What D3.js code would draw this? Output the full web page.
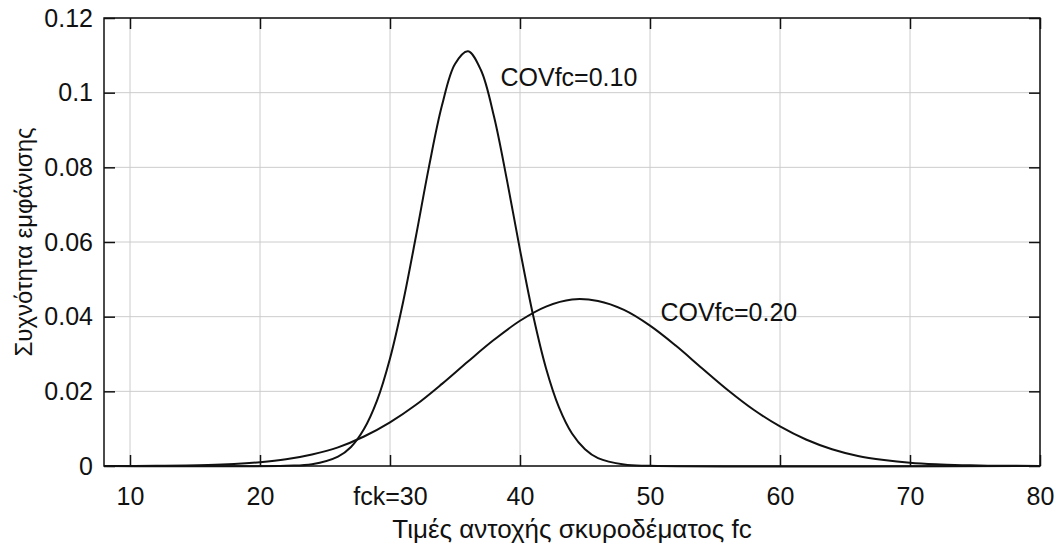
<html>
<head>
  <style>
  body {
    margin: 0;
    background: #fff;
    font-family: "Liberation Sans", Arial, sans-serif;
  }
  .grid line {
    stroke: #cccccc;
    stroke-width: 1px;
  }
  .axis .domain {
    display: none;
  }
  .axis text {
    font-size: 25px;
    fill: #111;
  }
  .axis line {
    stroke: #111;
    stroke-width: 1.5px;
  }
  .curve {
    fill: none;
    stroke: #111;
    stroke-width: 2px;
  }
  </style>
</head>
<body>
<div id="chart"></div>
<script src="https://d3js.org/d3.v7.min.js"></script>
<script>

// x ticks and labels
var xTicks = [10, 20, 30, 40, 50, 60, 70, 80];
var xTickLabels = ["10", "20", "fck=30", "40", "50", "60", "70", "80"];
// y ticks and labels
var yTicks = [0, 0.02, 0.04, 0.06, 0.08, 0.1, 0.12];
var yTickLabels = ["0", "0.02", "0.04", "0.06", "0.08", "0.1", "0.12"];

// COVfc = 0.10
var fc1 = [8, 22, 24, 26, 27, 28, 29, 30, 31, 32, 33, 34, 35, 36, 37, 38, 39, 40, 41, 42, 43, 44, 45, 46, 48, 50, 80];
var p1 = [0, 0.00006, 0.00046, 0.0025, 0.0051, 0.0099, 0.0175, 0.0288, 0.0438, 0.0616, 0.0802, 0.0966, 0.1077, 0.1111, 0.106, 0.0936, 0.0765, 0.0579, 0.0405, 0.0262, 0.0157, 0.0087, 0.0045, 0.0021, 0.0004, 0.00005, 0];

// COVfc = 0.20
var fc2 = [8, 12, 16, 18, 20, 22, 24, 26, 28, 30, 32, 34, 36, 38, 40, 42, 44, 46, 48, 50, 52, 54, 56, 58, 60, 62, 64, 66, 68, 70, 72, 74, 76, 80];
var p2 = [0.00001, 0.00006, 0.00026, 0.00052, 0.001, 0.0018, 0.0031, 0.005, 0.0079, 0.0117, 0.0164, 0.022, 0.028, 0.0338, 0.0389, 0.0427, 0.0446, 0.0442, 0.0418, 0.0376, 0.0322, 0.0262, 0.0203, 0.015, 0.0106, 0.0071, 0.0045, 0.0027, 0.0016, 0.00085, 0.00044, 0.00022, 0.0001, 0.00002];

var labels = [
  {text: "COVfc=0.10", x: 38.5, y: 0.1018},
  {text: "COVfc=0.20", x: 50.8, y: 0.0388}
];

var margin = {top: 18, right: 16, bottom: 78, left: 104},
    width = 1056 - margin.left - margin.right,
    height = 544 - margin.top - margin.bottom;

var svg = d3.select("#chart")
  .append("svg")
    .attr("width", 1056)
    .attr("height", 544)
  .append("g")
    .attr("transform", "translate(" + margin.left + "," + margin.top + ")");

var x = d3.scaleLinear().domain([8, 80]).range([0, width]);
var y = d3.scaleLinear().domain([0, 0.12]).range([height, 0]);

// grid
svg.append("g").attr("class", "grid")
  .selectAll("line").data(xTicks).enter().append("line")
    .attr("x1", function(d) { return x(d); })
    .attr("x2", function(d) { return x(d); })
    .attr("y1", 0).attr("y2", height);
svg.append("g").attr("class", "grid")
  .selectAll("line").data(yTicks).enter().append("line")
    .attr("y1", function(d) { return y(d); })
    .attr("y2", function(d) { return y(d); })
    .attr("x1", 0).attr("x2", width);

// axes, ticks pointing inward
svg.append("g").attr("class", "axis")
  .attr("transform", "translate(0," + height + ")")
  .call(d3.axisBottom(x).tickValues(xTicks).tickSizeInner(-11).tickSizeOuter(0).tickPadding(21)
    .tickFormat(function(d, i) { return xTickLabels[i]; }));
svg.append("g").attr("class", "axis")
  .call(d3.axisTop(x).tickValues(xTicks).tickSizeInner(-11).tickSizeOuter(0).tickFormat(""));
svg.append("g").attr("class", "axis")
  .call(d3.axisLeft(y).tickValues(yTicks).tickSizeInner(-11).tickSizeOuter(0).tickPadding(11)
    .tickFormat(function(d, i) { return yTickLabels[i]; }));
svg.append("g").attr("class", "axis")
  .attr("transform", "translate(" + width + ",0)")
  .call(d3.axisRight(y).tickValues(yTicks).tickSizeInner(-11).tickSizeOuter(0).tickFormat(""));

// box
svg.append("rect")
  .attr("width", width).attr("height", height)
  .attr("fill", "none").attr("stroke", "#111").attr("stroke-width", 1.5);

var line = d3.line()
  .x(function(d) { return x(d[0]); })
  .y(function(d) { return y(d[1]); })
  .curve(d3.curveCatmullRom);

svg.append("path").attr("class", "curve")
  .attr("d", line(d3.zip(fc1, p1)));
svg.append("path").attr("class", "curve")
  .attr("d", line(d3.zip(fc2, p2)));

svg.selectAll(".lbl").data(labels).enter().append("text")
  .attr("class", "lbl")
  .attr("x", function(d) { return x(d.x); })
  .attr("y", function(d) { return y(d.y); })
  .style("font-size", "25px")
  .style("fill", "#111")
  .text(function(d) { return d.text; });

// axis titles
svg.append("text")
  .attr("x", width / 2)
  .attr("y", height + 72)
  .attr("text-anchor", "middle")
  .style("font-size", "26px")
  .style("fill", "#111")
  .text("Τιμές αντοχής σκυροδέματος fc");

svg.append("text")
  .attr("transform", "translate(" + (-72) + "," + (height / 2) + ") rotate(-90)")
  .attr("text-anchor", "middle")
  .style("font-size", "24px")
  .style("fill", "#111")
  .text("Συχνότητα εμφάνισης");

</script>
</body>
</html>
